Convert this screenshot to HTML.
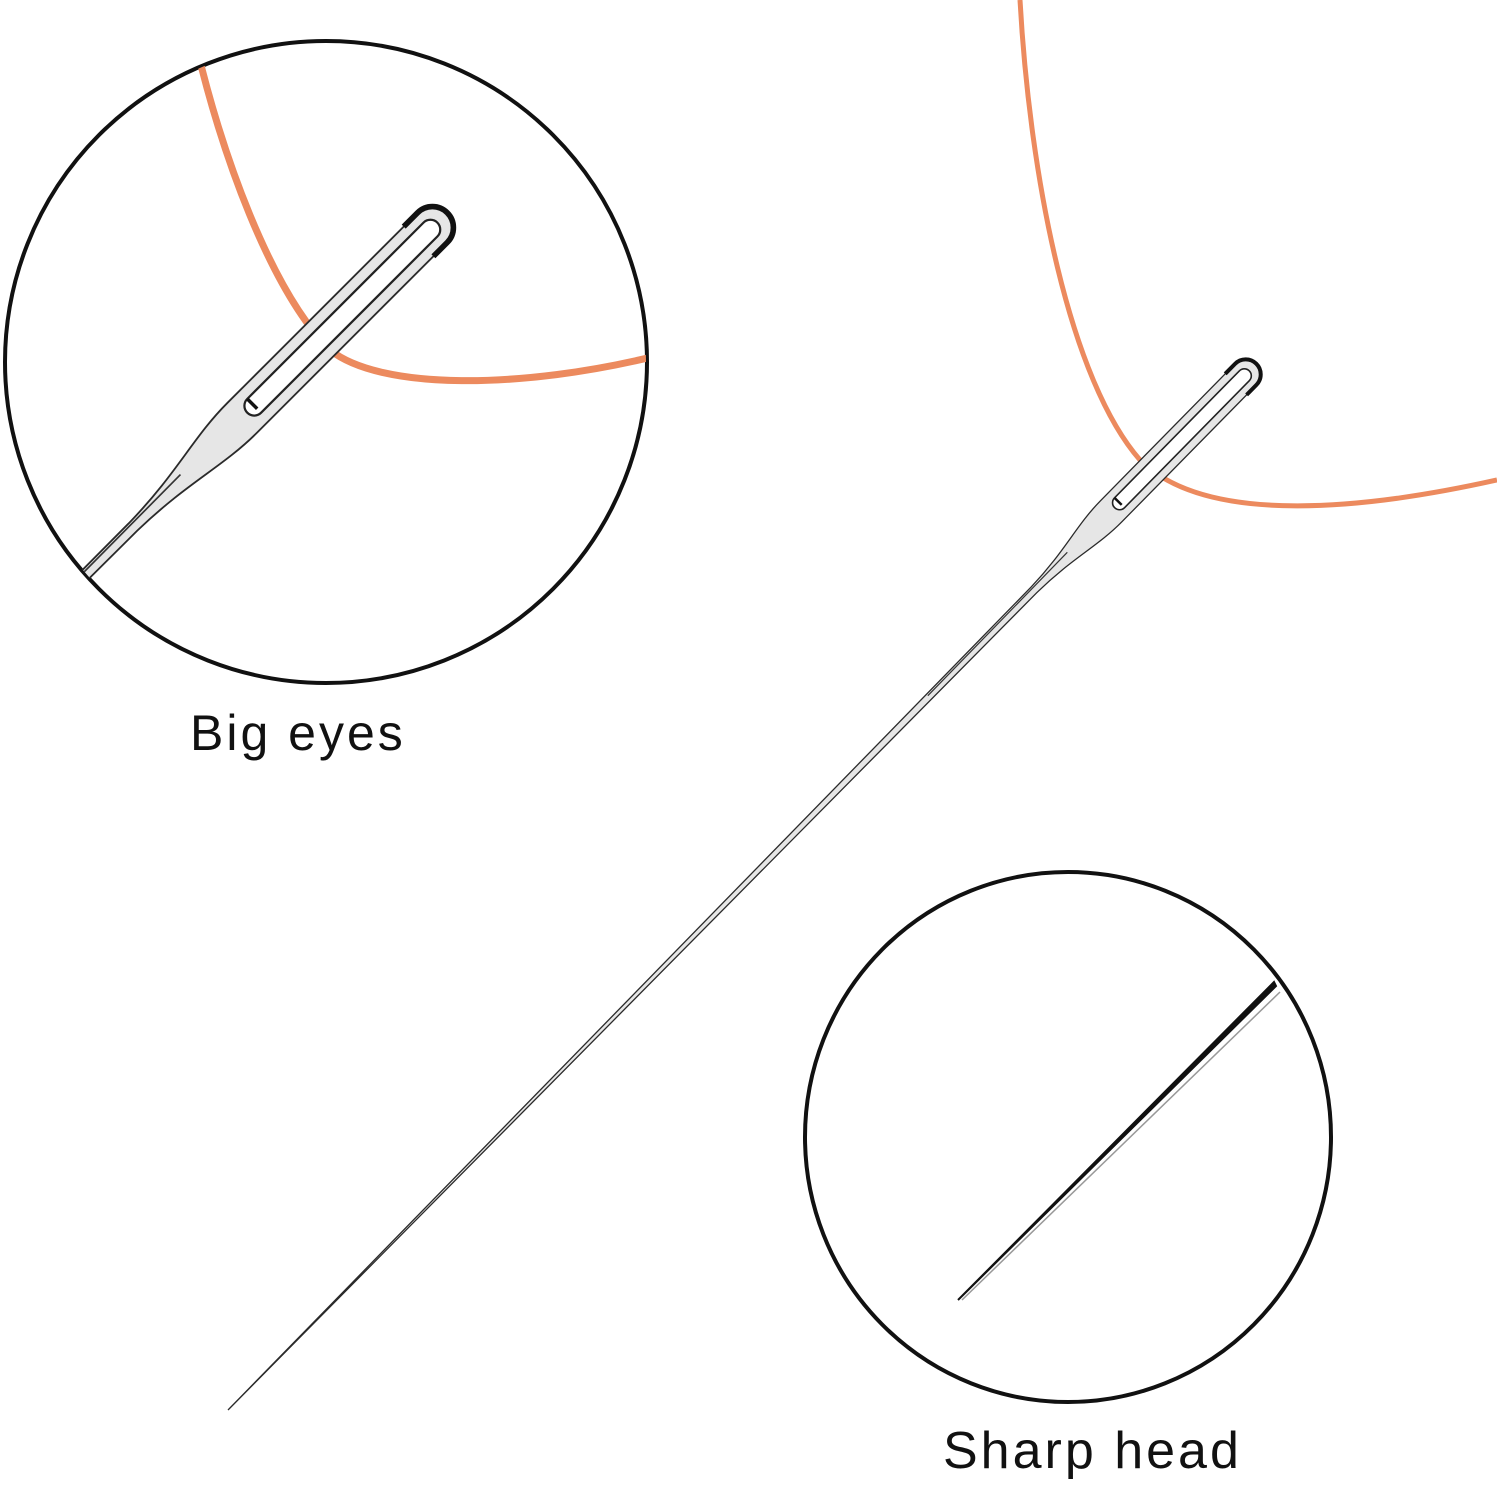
<!DOCTYPE html>
<html><head><meta charset="utf-8"><style>
html,body{margin:0;padding:0;background:#fff;overflow:hidden;width:1497px;height:1500px;}
svg{display:block}
</style></head><body>
<svg width="1497" height="1500" viewBox="0 0 1497 1500" xmlns="http://www.w3.org/2000/svg">
<defs>
<g id="needle">
<path d="M0,0 L1150,-4 C1200,-5 1225,-15 1260,-15 L1452,-15 A15,15 0 0 1 1452,15 L1260,15 C1225,15 1200,5 1150,4 Z" fill="#e6e6e6" stroke="#2a2a2a" stroke-width="1.3"/>
<path d="M1000,-1.5 L1200,-2.5" stroke="#333" stroke-width="1.2"/>
<path d="M1272,-7 L1450,-7 A7,7 0 0 1 1450,7 L1272,7 A7,7 0 0 1 1272,-7 Z" fill="#fff" stroke="#222" stroke-width="1.6"/>
<path d="M1438,-15 L1452,-15 A15,15 0 0 1 1452,15 L1438,15" fill="none" stroke="#111" stroke-width="4"/>
<path d="M1272,-7 L1272,3" stroke="#111" stroke-width="2.5"/>
</g>
<clipPath id="c1"><circle cx="326" cy="362" r="320"/></clipPath>
</defs>

<path d="M1020,0 C1030,180 1070,380 1140,460 C1200,520 1340,515 1497,480" fill="none" stroke="#ec8a5e" stroke-width="5"/>
<use href="#needle" transform="translate(228,1410) rotate(-45.5)"/>

<circle cx="326" cy="362" r="321" fill="#fff" stroke="#111" stroke-width="4"/>
<g clip-path="url(#c1)">
<path d="M195,40 C220,150 270,290 330,350 C380,390 520,390 660,355" fill="none" stroke="#ec8a5e" stroke-width="7"/>
<use href="#needle" transform="translate(-1005,1665) rotate(-45) scale(1.4)"/>
</g>
<text x="190" y="750" font-family="Liberation Sans, sans-serif" font-size="50" letter-spacing="3" fill="#111">Big eyes</text>

<ellipse cx="1068" cy="1137" rx="263" ry="265" fill="#fff" stroke="#111" stroke-width="4"/>
<path d="M958,1300 L1274,982 L1276,986 Z" fill="#111" stroke="#111" stroke-width="2"/>
<path d="M962,1300 L1280,992" stroke="#999" stroke-width="1.5"/>
<text x="943" y="1468" font-family="Liberation Sans, sans-serif" font-size="52" letter-spacing="3" fill="#111">Sharp head</text>
</svg>
</body></html>
